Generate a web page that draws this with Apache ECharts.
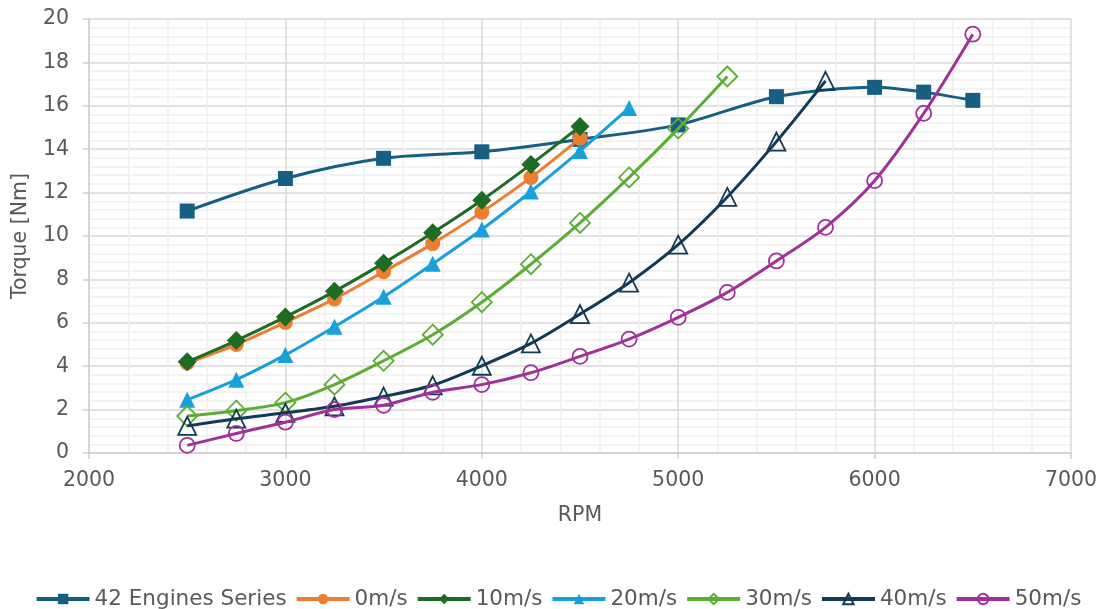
<!DOCTYPE html>
<html><head><meta charset="utf-8">
<script src="https://cdn.jsdelivr.net/npm/echarts@6/dist/echarts.min.js"></script>
<style>html,body{margin:0;padding:0;background:#fff}#c{width:1116px;height:609px}</style>
</head><body><div id="c"></div>
<script>
const seriesNames = ['42 Engines Series','0m/s','10m/s','20m/s','30m/s','40m/s','50m/s'];
const engRpm = [2500,3000,3500,4000,4500,5000,5500,6000,6250,6500];
const engTorque = [11.15,12.65,13.58,13.88,14.45,15.12,16.42,16.85,16.63,16.25];
const rpm0 = [2500,2750,3000,3250,3500,3750,4000,4250,4500];
const t0 = [4.15,5.0,6.02,7.1,8.35,9.65,11.1,12.7,14.5];
const rpm10 = [2500,2750,3000,3250,3500,3750,4000,4250,4500];
const t10 = [4.2,5.18,6.27,7.45,8.75,10.15,11.65,13.3,15.05];
const rpm20 = [2500,2750,3000,3250,3500,3750,4000,4250,4500,4750];
const t20 = [2.45,3.38,4.52,5.82,7.2,8.72,10.3,12.05,13.92,15.9];
const rpm30 = [2500,2750,3000,3250,3500,3750,4000,4250,4500,4750,5000,5250];
const t30 = [1.7,1.95,2.32,3.15,4.25,5.45,6.95,8.7,10.6,12.7,14.95,17.35];
const rpm40 = [2500,2750,3000,3250,3500,3750,4000,4250,4500,4750,5000,5250,5500,5750];
const t40 = [1.25,1.58,1.85,2.15,2.6,3.12,4.02,5.05,6.4,7.85,9.6,11.8,14.35,17.15];
const rpm50 = [2500,2750,3000,3250,3500,3750,4000,4250,4500,4750,5000,5250,5500,5750,6000,6250,6500];
const t50 = [0.35,0.9,1.42,2.0,2.2,2.8,3.15,3.7,4.45,5.25,6.25,7.4,8.85,10.4,12.55,15.65,19.3];

const xs = [engRpm,rpm0,rpm10,rpm20,rpm30,rpm40,rpm50];
const ys = [engTorque,t0,t10,t20,t30,t40,t50];
const colors = ['#175E83','#ED7D31','#1D6B24','#17A0DA','#5BAE33','#103A56','#A0309A'];
const symbols = ['rect','circle','diamond','triangle','diamond','triangle','circle'];
const sizes = [15,15,19,16,20,18,15];
const hollow = [false,false,false,false,true,true,true];

const font = 'DejaVu Sans';
const series = seriesNames.map((n,i)=>({
  name:n, type:'line', smooth:0.3,
  data: xs[i].map((x,j)=>[x,ys[i][j]]),
  symbol: symbols[i], symbolSize: sizes[i],
  color: colors[i],
  lineStyle:{color:colors[i],width:3},
  itemStyle: hollow[i] ? {color:'rgba(255,255,255,0)',borderColor:colors[i],borderWidth:1.8} : {color:colors[i]},
  z: 2+i
}));

const chart = echarts.init(document.getElementById('c'));
chart.setOption({
  animation:false,
  textStyle:{fontFamily:font},
  grid:{left:89,right:45,top:19,bottom:156},
  xAxis:{type:'value',min:2000,max:7000,interval:1000,
    name:'RPM',nameLocation:'middle',nameGap:52,
    nameTextStyle:{fontSize:20.5,color:'#595959',fontFamily:font},
    axisLabel:{fontSize:20.5,color:'#595959',margin:17,fontFamily:font,formatter:v=>String(v)},
    axisLine:{show:true,lineStyle:{color:'#d0d0d0',width:1.5}},
    axisTick:{show:true,length:6,lineStyle:{color:'#d0d0d0',width:1.5}},
    splitLine:{show:true,lineStyle:{color:'#d9d9d9',width:1.5}},
    minorTick:{show:false,splitNumber:5},
    minorSplitLine:{show:true,lineStyle:{color:'#efefef',width:1.5}}
  },
  yAxis:{type:'value',min:0,max:20,interval:2,
    name:'Torque [Nm]',nameLocation:'middle',nameGap:58,nameRotate:90,
    nameTextStyle:{fontSize:20.5,color:'#595959',fontFamily:font},
    axisLabel:{fontSize:20.5,color:'#595959',margin:20,fontFamily:font},
    axisLine:{show:true,lineStyle:{color:'#d0d0d0',width:1.5}},
    axisTick:{show:true,length:6,lineStyle:{color:'#d0d0d0',width:1.5}},
    splitLine:{show:true,lineStyle:{color:'#d9d9d9',width:1.5}},
    minorTick:{show:false,splitNumber:5},
    minorSplitLine:{show:true,lineStyle:{color:'#efefef',width:1.5}}
  },
  legend:{top:583,left:'center',itemWidth:53,itemHeight:13,itemGap:8,
    lineStyle:{width:4},
    textStyle:{fontSize:21.5,color:'#595959',fontFamily:font},
    data:seriesNames},
  series: series
});
</script></body></html>
